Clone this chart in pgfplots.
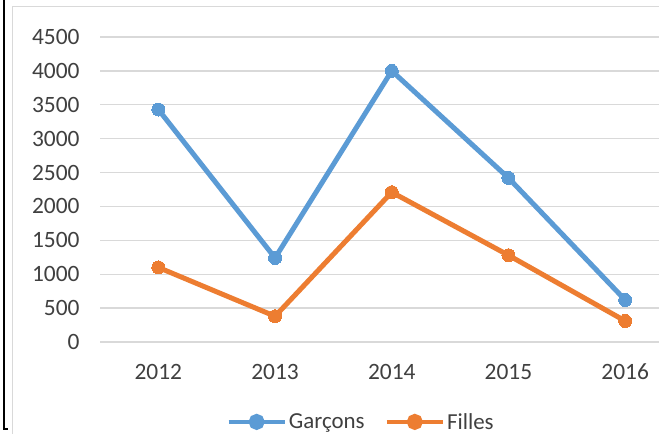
\documentclass[border=0pt]{standalone}
\usepackage{pgfplots}
\pgfplotsset{compat=1.18}
\usepackage{fontspec}
\setmainfont{Carlito}
\definecolor{cblue}{HTML}{5B9BD5}
\definecolor{corange}{HTML}{ED7D31}
\definecolor{ctext}{HTML}{404040}
\definecolor{cgrid}{HTML}{D9D9D9}
\begin{document}
\begin{tikzpicture}[x=1bp,y=1bp]
\useasboundingbox (0,0) rectangle (659,434);
\fill[white] (0,0) rectangle (659,434);
\draw[cgrid, line width=1bp] (12,-5) -- (12,427) -- (670,427);
\draw[black, line width=1.2bp] (4,434) -- (4,5) -- (8,5);
\begin{axis}[
  at={(100bp,92bp)}, anchor=south west,
  scale only axis, width=559bp, height=305bp,
  xmin=-0.5, xmax=4.29, ymin=0, ymax=4500,
  xtick={0,1,2,3,4}, xticklabels={2012,2013,2014,2015,2016},
  ytick={0,500,...,4500},
  axis line style={draw=none},
  ymajorgrids, grid style={cgrid, line width=1.3bp},
  major tick length=0pt,
  clip=false,
  tick label style={font=\fontsize{23.5}{27}\selectfont, text=ctext},
  /pgf/number format/assume math mode=true,
  /pgf/number format/1000 sep={},
  yticklabel style={xshift=-17bp},
  xticklabel style={yshift=-19bp, anchor=north, text height=15bp, text depth=0pt},
  legend style={at={(0.467,-0.262)}, anchor=center, draw=none, fill=none,
    legend columns=2, font=\fontsize{23}{26}\selectfont, text=ctext,
    inner sep=0pt,
    /tikz/every even column/.append style={column sep=18bp}},
  legend image code/.code={\draw[#1, line width=4.5bp] (0bp,0bp) -- (56bp,0bp); \fill[#1] (28bp,0bp) circle (5.5bp);},
]
\addplot[cblue, line width=5bp, mark=*, mark size=6.5bp, mark options={fill=cblue, draw=cblue, line width=0pt}]
  coordinates {(0,3430) (1,1240) (2,4000) (3,2420) (4,620)};
\addlegendentry{Garçons}
\addplot[corange, line width=5bp, mark=*, mark size=6.5bp, mark options={fill=corange, draw=corange, line width=0pt}]
  coordinates {(0,1100) (1,380) (2,2210) (3,1280) (4,310)};
\addlegendentry{Filles}
\end{axis}
\end{tikzpicture}
\end{document}
